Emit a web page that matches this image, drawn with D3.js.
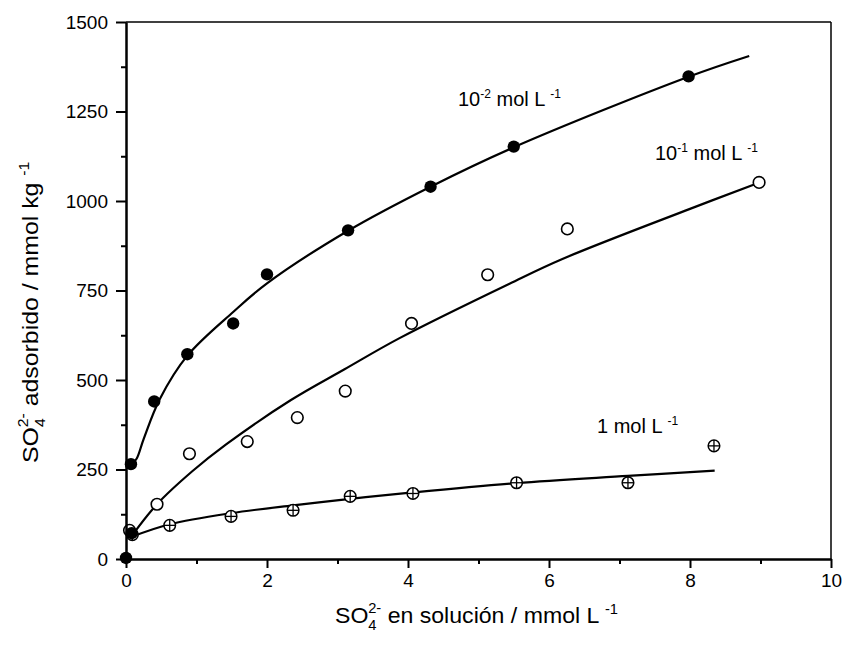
<!DOCTYPE html>
<html>
<head>
<meta charset="utf-8">
<script src="https://cdn.jsdelivr.net/npm/d3@7"></script>
<style>
  html, body { margin: 0; padding: 0; background: #fff; }
  svg { display: block; }
  text { font-family: Arial, "Liberation Sans", Helvetica, sans-serif; fill: #000; }
</style>
</head>
<body>
<svg id="chart" width="846" height="645"></svg>
<script>
// ---- data ----
const xMajorTicks = [0, 2, 4, 6, 8, 10];
const xMinorTicks = [1, 3, 5, 7, 9];
const yMajorTicks = [0, 250, 500, 750, 1000, 1250, 1500];
const yMinorTicks = [125, 375, 625, 875, 1125, 1375];

// 10^-2 mol L^-1 (filled circles)
const s1X = [0.0, 0.08, 0.07, 0.40, 0.87, 1.52, 2.00, 3.15, 4.32, 5.50, 7.98];
const s1Y = [3, 72, 265, 440, 572, 658, 795, 918, 1040, 1152, 1348];
const fit1X = [0.07, 0.15, 0.25, 0.48, 0.87, 1.52, 2.00, 3.15, 4.32, 5.50, 7.98, 8.84];
const fit1Y = [262, 280, 335, 447, 568, 690, 770, 917, 1040, 1150, 1347, 1405];

// 10^-1 mol L^-1 (open circles)
const s2X = [0.05, 0.44, 0.90, 1.72, 2.43, 3.11, 4.05, 5.13, 6.26, 8.98];
const s2Y = [80, 153, 294, 328, 395, 469, 658, 794, 922, 1052];
const fit2X = [0.08, 0.44, 0.94, 1.42, 2.34, 3.10, 3.88, 5.44, 6.19, 8.00, 8.92];
const fit2Y = [64, 153, 245, 320, 444, 530, 617, 769, 838, 978, 1047];

// 1 mol L^-1 (crossed circles)
const s3X = [0.09, 0.62, 1.49, 2.37, 3.18, 4.07, 5.54, 7.12, 8.34];
const s3Y = [68, 94, 119, 136, 175, 183, 213, 213, 316];
const fit3X = [0.08, 0.62, 1.49, 2.37, 3.18, 4.07, 5.54, 7.12, 8.35];
const fit3Y = [62, 97, 128, 150, 168, 186, 212, 232, 247];

// ---- layout ----
const svg = d3.select("#chart");
const x = d3.scaleLinear().domain([0, 10]).range([126, 831]);
const y = d3.scaleLinear().domain([0, 1500]).range([559, 22]);

// fitted curves
const line = d3.line().x(d => x(d[0])).y(d => y(d[1])).curve(d3.curveCatmullRom.alpha(0.5));
[[fit1X, fit1Y], [fit2X, fit2Y], [fit3X, fit3Y]].forEach(([fx, fy]) => {
  svg.append("path").datum(fx.map((v, i) => [v, fy[i]]))
    .attr("d", line).attr("fill", "none").attr("stroke", "#000").attr("stroke-width", 2.2);
});

// markers
const R = 6.2;
svg.append("g").selectAll("circle").data(s2X.map((v, i) => [v, s2Y[i]])).join("circle")
  .attr("cx", d => x(d[0])).attr("cy", d => y(d[1])).attr("r", R - 0.4)
  .attr("fill", "#fff").attr("stroke", "#000").attr("stroke-width", 1.6);

const g3 = svg.append("g").selectAll("g").data(s3X.map((v, i) => [v, s3Y[i]])).join("g")
  .attr("transform", d => `translate(${x(d[0])},${y(d[1])})`);
g3.append("circle").attr("r", R - 0.4).attr("fill", "#fff").attr("stroke", "#000").attr("stroke-width", 1.5);
g3.append("line").attr("x1", -(R - 0.4)).attr("x2", R - 0.4).attr("stroke", "#000").attr("stroke-width", 1.3);
g3.append("line").attr("y1", -(R - 0.4)).attr("y2", R - 0.4).attr("stroke", "#000").attr("stroke-width", 1.3);

svg.append("g").selectAll("circle").data(s1X.map((v, i) => [v, s1Y[i]])).join("circle")
  .attr("cx", d => x(d[0])).attr("cy", d => y(d[1])).attr("r", R).attr("fill", "#000");

// frame (top / right)
svg.append("line").attr("x1", x(0)).attr("x2", x(10)).attr("y1", y(1500)).attr("y2", y(1500))
  .attr("stroke", "#000").attr("stroke-width", 1.5);
svg.append("line").attr("x1", x(10)).attr("x2", x(10)).attr("y1", y(0)).attr("y2", y(1500))
  .attr("stroke", "#000").attr("stroke-width", 1.5);

// axes
function styleAxis(g) {
  g.select(".domain").attr("stroke", "#000").attr("stroke-width", 2);
  g.selectAll(".tick line").attr("stroke", "#000").attr("stroke-width", 2);
  g.selectAll(".tick text").style("font-size", "19px").attr("fill", "#000");
}
const gx = svg.append("g").attr("transform", `translate(0,${y(0)})`)
  .call(d3.axisBottom(x).tickValues(xMajorTicks).tickSize(9).tickPadding(6).tickSizeOuter(0).tickFormat(d3.format("d")));
styleAxis(gx);
const gxm = svg.append("g").attr("transform", `translate(0,${y(0)})`)
  .call(d3.axisBottom(x).tickValues(xMinorTicks).tickSize(5).tickFormat("").tickSizeOuter(0));
styleAxis(gxm);

const gy = svg.append("g").attr("transform", `translate(${x(0)},0)`)
  .call(d3.axisLeft(y).tickValues(yMajorTicks).tickSize(10).tickPadding(8).tickSizeOuter(0).tickFormat(d3.format("d")));
styleAxis(gy);
const gym = svg.append("g").attr("transform", `translate(${x(0)},0)`)
  .call(d3.axisLeft(y).tickValues(yMinorTicks).tickSize(5).tickFormat("").tickSizeOuter(0));
styleAxis(gym);

// series labels
function seriesLabel(px, py, base, exp) {
  const t = svg.append("text").attr("x", px).attr("y", py).style("font-size", "20px");
  t.append("tspan").text(base);
  if (exp) t.append("tspan").attr("dy", -8).style("font-size", "12px").text(exp);
  t.append("tspan").attr("dy", exp ? 8 : 0).text(" mol L ");
  t.append("tspan").attr("dy", -8).style("font-size", "12px").text("-1");
}
seriesLabel(458, 106, "10", "-2");
seriesLabel(655, 160, "10", "-1");
seriesLabel(597, 433, "1", null);

// axis titles
function chemLabel(t, rest, restExp) {
  t.append("tspan").text("SO");
  t.append("tspan").attr("dy", 7).style("font-size", "14px").text("4");
  t.append("tspan").attr("dx", -8).attr("dy", -17).style("font-size", "14px").text("2-");
  t.append("tspan").attr("dy", 10).text(rest);
  t.append("tspan").attr("dy", -9).style("font-size", "14px").text(restExp);
}
const xt = svg.append("text").attr("transform", "translate(335,623) scale(1.05,1)").style("font-size", "22px");
chemLabel(xt, "  en solución / mmol L ", "-1");

const yt = svg.append("text").attr("transform", "translate(38,463) rotate(-90) scale(1.13,1)").style("font-size", "22px");
chemLabel(yt, "  adsorbido / mmol kg ", "-1");
</script>
</body>
</html>
